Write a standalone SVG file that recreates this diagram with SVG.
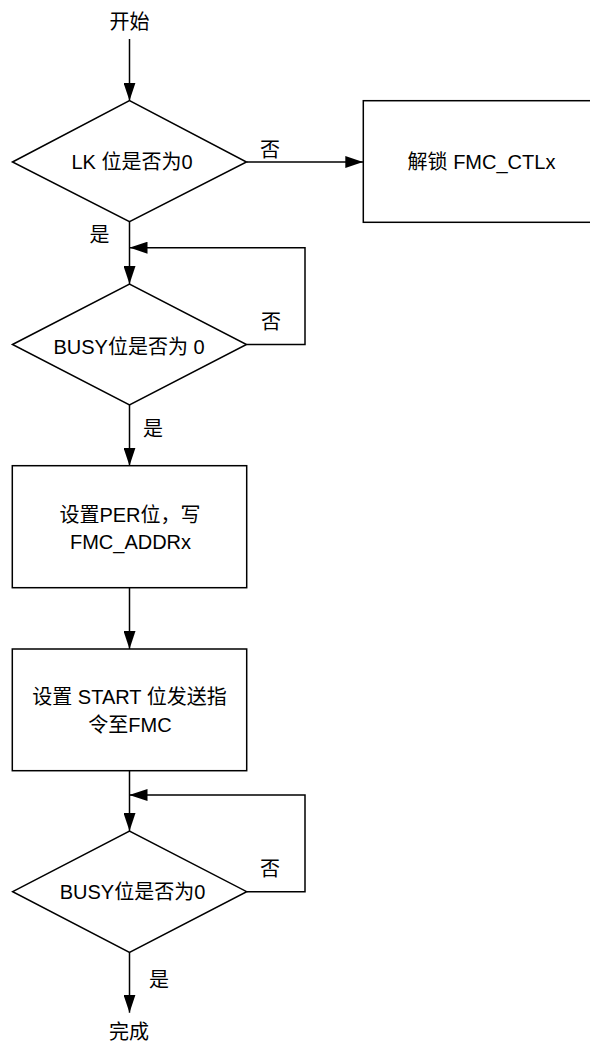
<svg xmlns="http://www.w3.org/2000/svg" width="590" height="1044" viewBox="0 0 590 1044">
<style>
.shape{fill:#fff;stroke:#000;stroke-width:1.5}
.edge{fill:none;stroke:#000;stroke-width:1.5}
text{font-family:"Liberation Sans","Noto Sans CJK SC",sans-serif;font-size:20px;fill:#000;text-anchor:middle}
</style>
<defs>
<marker id="arr" viewBox="0 0 18 12" refX="18" refY="6" markerWidth="18" markerHeight="12" markerUnits="userSpaceOnUse" orient="auto">
<path d="M0,0 L18,6 L0,12 z" fill="#000"/>
</marker>
</defs>
<rect width="590" height="1044" fill="#fff"/>
<g id="connectors">
<path class="edge" d="M129.5,39 V100.7" marker-end="url(#arr)"/>
<path class="edge" d="M246.5,162 H363.3" marker-end="url(#arr)"/>
<path class="edge" d="M129.5,221.7 V284" marker-end="url(#arr)"/>
<path class="edge" d="M246.5,344.5 H305 V247.7 H129.5" marker-end="url(#arr)"/>
<path class="edge" d="M129.5,405 V465.7" marker-end="url(#arr)"/>
<path class="edge" d="M129.5,587.7 V649" marker-end="url(#arr)"/>
<path class="edge" d="M129.5,770.7 V831" marker-end="url(#arr)"/>
<path class="edge" d="M246.7,891.7 H305 V795 H129.5" marker-end="url(#arr)"/>
<path class="edge" d="M129.5,952.3 V1012.7" marker-end="url(#arr)"/>
<text x="270" y="157">否</text>
<text x="99.5" y="242">是</text>
<text x="271" y="328.5">否</text>
<text x="153" y="436">是</text>
<text x="270" y="875.5">否</text>
<text x="159" y="987">是</text>
</g>
<g id="start"><text x="129.5" y="28.5">开始</text></g>
<g id="d1">
<polygon class="shape" points="12.5,162 129.5,100.7 246.5,162 129.5,221.7"/>
<text x="132" y="169">LK 位是否为0</text>
</g>
<g id="unlock">
<rect class="shape" x="363.3" y="100.7" width="240" height="121.6"/>
<text x="481.5" y="169">解锁 FMC_CTLx</text>
</g>
<g id="d2">
<polygon class="shape" points="12.5,344.5 129.5,284 246.5,344.5 129.5,405"/>
<text x="129" y="354">BUSY位是否为 0</text>
</g>
<g id="box2">
<rect class="shape" x="12.3" y="465.7" width="234.4" height="122"/>
<text x="130" y="522">设置PER位，写</text>
<text x="130.5" y="548.7">FMC_ADDRx</text>
</g>
<g id="box3">
<rect class="shape" x="12.3" y="649" width="234.4" height="121.7"/>
<text x="129.5" y="703.7">设置 START 位发送指</text>
<text x="130" y="732">令至FMC</text>
</g>
<g id="d3">
<polygon class="shape" points="12.7,891.7 129.5,831 246.7,891.7 129.5,952.3"/>
<text x="132.5" y="899">BUSY位是否为0</text>
</g>
<g id="end"><text x="129" y="1038.5">完成</text></g>
</svg>
